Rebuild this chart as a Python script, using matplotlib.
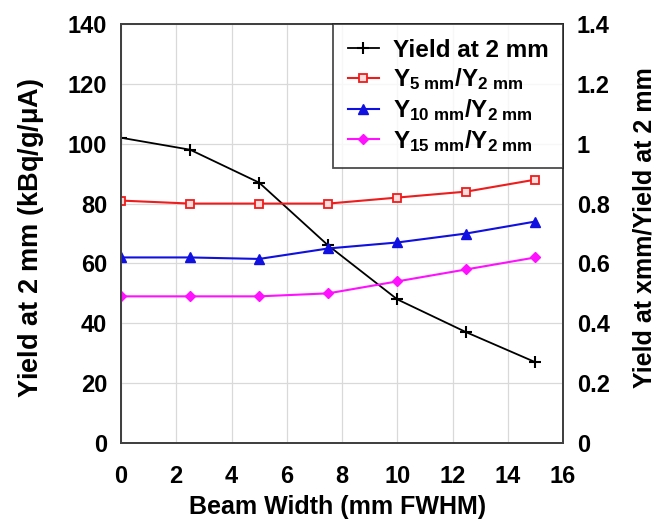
import matplotlib
matplotlib.use("Agg")
import matplotlib.pyplot as plt

plt.rcParams['font.family'] = ['Liberation Sans', 'DejaVu Sans']
plt.rcParams['font.weight'] = 'bold'
plt.rcParams['mathtext.fontset'] = 'custom'
plt.rcParams['mathtext.rm'] = 'Liberation Sans:bold'
plt.rcParams['mathtext.bf'] = 'Liberation Sans:bold'
plt.rcParams['mathtext.it'] = 'Liberation Sans:bold'

beam_width = [0, 2.5, 5, 7.5, 10, 12.5, 15]
yield_2mm = [102, 98, 87, 66, 48, 37, 27]
ratio_5mm = [0.81, 0.80, 0.80, 0.80, 0.82, 0.84, 0.88]
ratio_10mm = [0.62, 0.62, 0.615, 0.65, 0.67, 0.70, 0.74]
ratio_15mm = [0.49, 0.49, 0.49, 0.50, 0.54, 0.58, 0.62]

fig = plt.figure(figsize=(6.59, 5.23), dpi=100)
ax = fig.add_axes([121 / 659, 80 / 523, 442 / 659, 419 / 523])
ax2 = ax.twinx()

ax.set_xlim(0, 16)
ax.set_ylim(0, 140)
ax2.set_ylim(0, 1.4)
ax.set_xticks(range(0, 17, 2))
ax.set_yticks(range(0, 141, 20))
ax2.set_yticks([0, 0.2, 0.4, 0.6, 0.8, 1.0, 1.2, 1.4])
ax2.set_yticklabels(['0', '0.2', '0.4', '0.6', '0.8', '1', '1.2', '1.4'])
ax.grid(True, color='#d9d9d9', linewidth=0.9)
ax.set_axisbelow(True)

h1, = ax.plot(beam_width, yield_2mm, color='black', marker='+', markersize=9,
              markeredgewidth=1.5, linewidth=1.3, label='Yield at 2 mm')
h2, = ax2.plot(beam_width, ratio_5mm, color='#ee1c1c', marker='s', markersize=6,
               markerfacecolor='#ffdddd', markeredgewidth=1.3, linewidth=1.5,
               label=r'Y$_{5\ mm}$/Y$_{2\ mm}$')
h3, = ax2.plot(beam_width, ratio_10mm, color='#1010e0', marker='^', markersize=7,
               linewidth=1.5, label=r'Y$_{10\ mm}$/Y$_{2\ mm}$')
h4, = ax2.plot(beam_width, ratio_15mm, color='#ff10ff', marker='D', markersize=5.5,
               linewidth=1.5, label=r'Y$_{15\ mm}$/Y$_{2\ mm}$')

for a in (ax, ax2):
    for s in a.spines.values():
        s.set_color('#404040')
        s.set_linewidth(1.3)
ax.tick_params(axis='x', length=0, labelsize=17, pad=16)
ax.tick_params(axis='y', length=0, labelsize=17, pad=10)
ax2.tick_params(axis='y', length=0, labelsize=17, pad=10)

ax.set_xlabel('Beam Width (mm FWHM)', fontsize=18, fontweight='bold')
ax.set_ylabel(r'Yield at 2 mm (kBq/g/$\mu$A)', fontsize=19.5, fontweight='bold')
ax2.set_ylabel('Yield at xmm/Yield at 2 mm', fontsize=18, fontweight='bold')
ax.xaxis.set_label_coords(0.49, -0.125)
ax.yaxis.set_label_coords(-0.17, 0.49)
ax2.yaxis.set_label_coords(1.158, 0.513)

leg = ax2.legend(handles=[h1, h2, h3, h4], loc='upper right', fontsize=17.5,
                 frameon=True, fancybox=False, edgecolor='#202020',
                 handlelength=1.3, borderpad=0.6, labelspacing=0.2,
                 handletextpad=0.55, borderaxespad=0.0,
                 bbox_to_anchor=(1.0, 1.0))
leg.get_frame().set_linewidth(1.3)

fig.savefig('out.png', dpi=100, facecolor='white')
